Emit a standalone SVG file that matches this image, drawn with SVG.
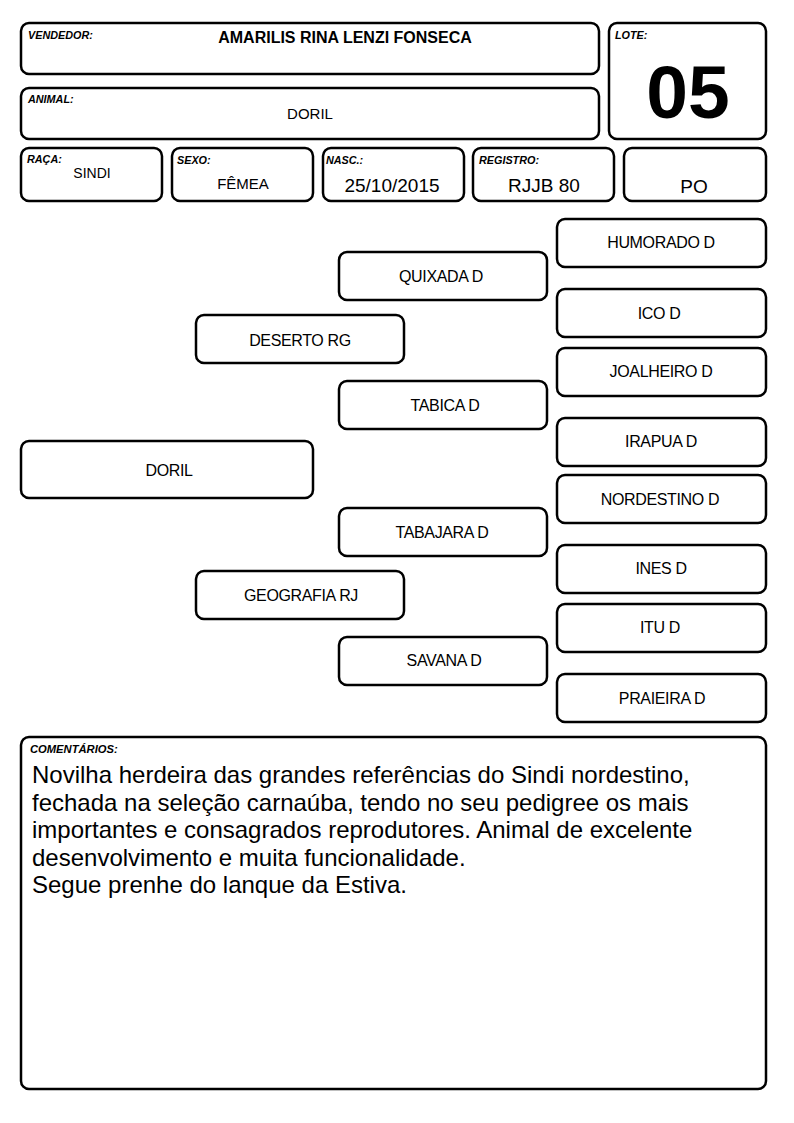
<svg xmlns="http://www.w3.org/2000/svg" width="794" height="1123" viewBox="0 0 794 1123">
<style>
.b{fill:#fff;stroke:#000;stroke-width:2.5}
.lab{font-family:"Liberation Sans",Arial,sans-serif;font-size:10.8px;font-weight:bold;font-style:italic;fill:#000}
.v{font-family:"Liberation Sans",Arial,sans-serif;font-size:15px;fill:#000;text-anchor:middle}
.big{font-size:19px}
.n{font-family:"Liberation Sans",Arial,sans-serif;font-size:16px;fill:#000;text-anchor:middle;letter-spacing:-0.35px}
.c{font-family:"Liberation Sans",Arial,sans-serif;font-size:24px;fill:#000}
</style>
<rect width="794" height="1123" fill="#fff"/>
<g id="vendedor"><rect class="b" x="21" y="23" width="578" height="51" rx="8"/><text class="lab" x="28" y="39">VENDEDOR:</text><text class="v" x="345" y="43" style="font-weight:bold;font-size:16px">AMARILIS RINA LENZI FONSECA</text></g>
<g id="animal"><rect class="b" x="21" y="88" width="578" height="51" rx="8"/><text class="lab" x="28" y="103">ANIMAL:</text><text class="v" x="310" y="119">DORIL</text></g>
<g id="lote"><rect class="b" x="609" y="23" width="157" height="116" rx="8"/><text class="lab" x="615" y="39">LOTE:</text><text x="688" y="118" font-family="Liberation Sans,Arial,sans-serif" font-size="75" font-weight="bold" text-anchor="middle">05</text></g>
<g id="raca"><rect class="b" x="21" y="148" width="141" height="53" rx="8"/><text class="lab" x="27" y="163">RAÇA:</text><text class="v" x="92" y="178" style="font-size:14px">SINDI</text></g>
<g id="sexo"><rect class="b" x="172" y="148" width="141" height="53" rx="8"/><text class="lab" x="177" y="164">SEXO:</text><text class="v" x="243" y="189">FÊMEA</text></g>
<g id="nasc"><rect class="b" x="323" y="148" width="141" height="53" rx="8"/><text class="lab" x="326" y="164">NASC.:</text><text class="v big" x="392" y="192">25/10/2015</text></g>
<g id="registro"><rect class="b" x="473" y="148" width="141" height="53" rx="8"/><text class="lab" x="479" y="164">REGISTRO:</text><text class="v big" x="544" y="192">RJJB 80</text></g>
<g id="po"><rect class="b" x="624" y="148" width="142" height="53" rx="8"/><text class="v big" x="694" y="193">PO</text></g>
<g id="connectors"></g>
<g id="humorado"><rect class="b" x="557" y="219" width="209" height="48" rx="8"/><text class="n" x="661" y="248">HUMORADO D</text></g>
<g id="quixada"><rect class="b" x="339" y="252" width="208" height="48" rx="8"/><text class="n" x="441" y="282">QUIXADA D</text></g>
<g id="ico"><rect class="b" x="557" y="289" width="209" height="48" rx="8"/><text class="n" x="659" y="319">ICO D</text></g>
<g id="deserto"><rect class="b" x="196" y="315" width="208" height="48" rx="8"/><text class="n" x="300" y="346">DESERTO RG</text></g>
<g id="joalheiro"><rect class="b" x="557" y="348" width="209" height="48" rx="8"/><text class="n" x="661" y="377">JOALHEIRO D</text></g>
<g id="tabica"><rect class="b" x="339" y="381" width="208" height="48" rx="8"/><text class="n" x="445" y="411">TABICA D</text></g>
<g id="irapua"><rect class="b" x="557" y="418" width="209" height="48" rx="8"/><text class="n" x="661" y="447">IRAPUA D</text></g>
<g id="doril"><rect class="b" x="21" y="441" width="292" height="57" rx="8"/><text class="n" x="169" y="476">DORIL</text></g>
<g id="nordestino"><rect class="b" x="557" y="475" width="209" height="48" rx="8"/><text class="n" x="660" y="505">NORDESTINO D</text></g>
<g id="tabajara"><rect class="b" x="339" y="508" width="208" height="48" rx="8"/><text class="n" x="442" y="538">TABAJARA D</text></g>
<g id="geografia"><rect class="b" x="196" y="571" width="208" height="48" rx="8"/><text class="n" x="301" y="601">GEOGRAFIA RJ</text></g>
<g id="ines"><rect class="b" x="557" y="545" width="209" height="48" rx="8"/><text class="n" x="661" y="574">INES D</text></g>
<g id="itu"><rect class="b" x="557" y="604" width="209" height="48" rx="8"/><text class="n" x="660" y="633">ITU D</text></g>
<g id="savana"><rect class="b" x="339" y="637" width="208" height="48" rx="8"/><text class="n" x="444" y="666">SAVANA D</text></g>
<g id="praieira"><rect class="b" x="557" y="674" width="209" height="48" rx="8"/><text class="n" x="662" y="704">PRAIEIRA D</text></g>
<g id="comentarios"><rect class="b" x="21" y="737" width="745" height="352" rx="8"/><text class="lab" x="30" y="753" style="font-size:11.2px">COMENTÁRIOS:</text>
<text class="c"><tspan x="32" y="783">Novilha herdeira das grandes referências do Sindi nordestino,</tspan><tspan x="32" y="811">fechada na seleção carnaúba, tendo no seu pedigree os mais</tspan><tspan x="32" y="838">importantes e consagrados reprodutores. Animal de excelente</tspan><tspan x="32" y="866">desenvolvimento e muita funcionalidade.</tspan><tspan x="32" y="893">Segue prenhe do lanque da Estiva.</tspan></text></g>
</svg>
